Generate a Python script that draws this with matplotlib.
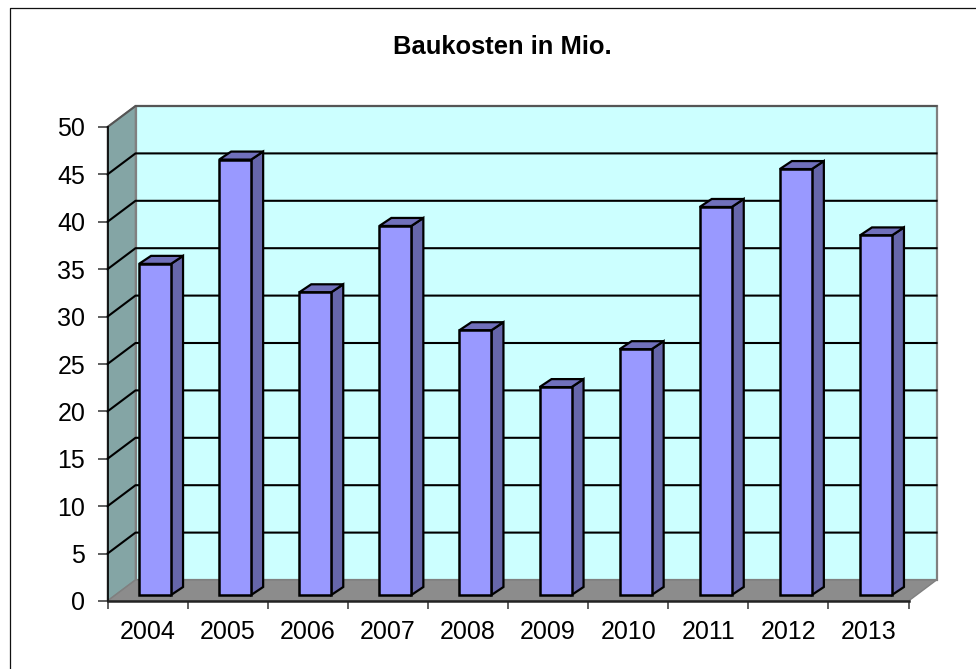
import matplotlib
matplotlib.use("Agg")
import matplotlib.pyplot as plt
from matplotlib.lines import Line2D

categories = ["2004", "2005", "2006", "2007", "2008", "2009", "2010", "2011", "2012", "2013"]
values = [35, 46, 32, 39, 28, 22, 26, 41, 45, 38]
y_ticks = [0, 5, 10, 15, 20, 25, 30, 35, 40, 45, 50]
title = "Baukosten in Mio."

W, H = 976, 669
plt.rcParams["font.family"] = ["Liberation Sans", "DejaVu Sans"]
fig = plt.figure(figsize=(W / 100, H / 100), dpi=100)
fig.add_artist(Line2D([9.5 / W, 9.5 / W, 1],
                      [0, 1 - 7.5 / H, 1 - 7.5 / H],
                      transform=fig.transFigure, color="#111111", lw=0.9))

x0, x1, ytop, ybot = 107.5, 908.5, 127.0, 601.0
ax = fig.add_axes([x0 / W, 1 - ybot / H, (x1 - x0) / W, (ybot - ytop) / H])
ax.set_xlim(0, len(categories))
ax.set_ylim(0, 50)
ax.patch.set_visible(False)

px = len(categories) / (x1 - x0)
py = 50 / (ybot - ytop)
DX, DY = 28 * px, 21 * py
n = len(categories)


def poly(xs, ys, **kw):
    kw.setdefault("clip_on", False)
    ax.fill(xs, ys, **kw)


# walls and floor
poly([DX, n + DX, n + DX, DX], [DY, DY, 50 + DY, 50 + DY], fc="#CCFFFF", ec="#808080", lw=1.6, zorder=1)
poly([0, DX, DX, 0], [0, DY, 50 + DY, 50], fc="#84A5A5", ec="#808080", lw=1.2, zorder=1.1)
poly([0, n, n + DX, DX], [0, 0, DY, DY], fc="#8C8C8C", ec="#808080", lw=1.0, zorder=1.2)

# grid on walls
for t in y_ticks[1:-1]:
    ax.plot([0, DX, n + DX], [t, t + DY, t + DY], color="black", lw=1.5, zorder=1.5, clip_on=False)
ax.plot([0, DX, n + DX], [50, 50 + DY, 50 + DY], color="#555555", lw=1.5, zorder=1.5, clip_on=False)

# bars (oblique prisms)
bw = 32 * px
fx, fy = 7.5 * px, 6 * py    # front-face offset into the depth
sx, sy = 12 * px, 8 * py     # bar depth
for i, v in enumerate(values):
    l = i + 0.5 - bw / 2 + fx
    r = l + bw
    b = fy
    t = v + fy - 0.07
    z = 2 + i * 0.01
    poly([l, r, r, l], [b, b, t, t], fc="#9999FF", ec="black", lw=1.8, joinstyle="miter", zorder=z + 0.002)
    poly([r, r + sx, r + sx, r], [b, b + sy, t + sy, t], fc="#6666AA", ec="black", lw=1.6, joinstyle="miter", zorder=z)
    poly([l, r, r + sx, l + sx], [t, t, t + sy, t + sy], fc="#7070BB", ec="black", lw=1.6, joinstyle="miter", zorder=z + 0.001)

# axes
for s in ("top", "right"):
    ax.spines[s].set_visible(False)
ax.spines["left"].set_linewidth(1.2)
ax.spines["bottom"].set_linewidth(1.8)
ax.spines["bottom"].set_color("#222222")
ax.spines["left"].set_zorder(3)
ax.spines["bottom"].set_zorder(3)
ax.set_yticks(y_ticks)
ax.set_xticks(range(n + 1))
ax.set_xticklabels([""] * (n + 1))
ax.set_xticks([i + 0.5 for i in range(n)], categories, minor=True)
ax.tick_params(axis="x", which="major", length=6, width=1.1, color="#333333")
ax.tick_params(axis="x", which="minor", length=0, labelsize=18, pad=14, labelcolor="black")
ax.tick_params(axis="y", length=7, width=1.1, labelsize=18, pad=9, color="#333333")

fig.text(502.5 / W, 1 - 47 / H, title, ha="center", va="center", fontsize=18.4, fontweight="bold", color="black")
fig.savefig("out.png", dpi=100)
